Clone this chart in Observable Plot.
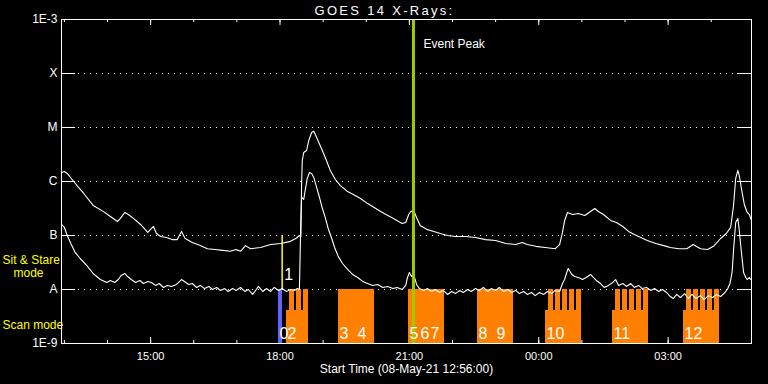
<!DOCTYPE html>
<html>
<head>
<meta charset="utf-8">
<script src="https://cdn.jsdelivr.net/npm/d3@7"></script>
<script src="https://cdn.jsdelivr.net/npm/@observablehq/plot@0.6"></script>
<style>
  html, body { margin: 0; padding: 0; background: #000; overflow: hidden; }
  #chart svg { display: block; }
</style>
</head>
<body>
<div id="chart"></div>
<script>
// ---------------- data ----------------
const title = "GOES 14 X-Rays:";
const xCaption = "Start Time (08-May-21 12:56:00)";
const startTime = "12:56:00";
const endTime = "04:56:00";

const levelValues = [1e-9, 1e-8, 1e-7, 1e-6, 1e-5, 1e-4, 1e-3];
const levelLabels = ["1E-9", "A", "B", "C", "M", "X", "1E-3"];
const gridLevels = [1e-8, 1e-7, 1e-6, 1e-5, 1e-4];
const timeTickLabels = ["15:00", "18:00", "21:00", "00:00", "03:00"];

// GOES long channel (1-8 A), upper curve
const longTimes = ["12:56","13:00","13:04","13:13","13:20","13:27","13:40","13:54","14:04","14:14","14:18","14:24","14:29","14:36","14:46","14:56","15:00","15:04","15:08","15:14","15:22","15:30","15:37","15:43","15:48","15:58","16:09","16:19","16:30","16:40","16:51","16:59","17:05","17:12","17:19","17:33","17:47","18:01","18:13","18:22","18:27","18:29","18:30","18:31","18:33","18:37","18:40","18:44","18:47","18:51","18:56","19:02","19:10","19:17","19:24","19:34","19:42","19:52","20:02","20:11","20:20","20:30","20:38","20:45","20:50","20:55","20:59","21:02","21:06","21:10","21:15","21:24","21:34","21:43","21:53","22:04","22:18","22:32","22:46","23:00","23:14","23:28","23:37","23:44","23:56","00:09","00:23","00:29","00:33","00:36","00:40","00:47","00:55","01:04","01:12","01:18","01:23","01:30","01:40","01:48","01:57","02:05","02:13","02:22","02:31","02:43","02:54","03:03","03:15","03:26","03:35","03:45","03:55","04:03","04:13","04:21","04:27","04:31","04:34","04:37","04:39","04:42","04:46","04:50","04:53","04:56"];
const longFlux = [1.47e-6,1.53e-6,1.41e-6,1.0e-6,7.7e-7,6.0e-7,3.6e-7,2.8e-7,2.25e-7,1.82e-7,2.07e-7,2.67e-7,2.45e-7,2.07e-7,1.6e-7,1.14e-7,1.3e-7,1.47e-7,1.09e-7,9.6e-8,9.2e-8,8.4e-8,8.4e-8,1.19e-7,8.8e-8,7.4e-8,6.5e-8,5.7e-8,5.5e-8,5.3e-8,5.1e-8,5.5e-8,5.1e-8,6.5e-8,5.7e-8,6.0e-8,6.8e-8,7.1e-8,7.7e-8,8.8e-8,1.0e-7,9.6e-8,8.4e-7,2.45e-6,3.44e-6,3.75e-6,5.75e-6,8.1e-6,8.5e-6,6.5e-6,4.6e-6,3.0e-6,1.6e-6,1.09e-6,8.4e-7,6.5e-7,5.75e-7,4.85e-7,3.9e-7,3.3e-7,2.78e-7,2.35e-7,2.07e-7,1.82e-7,1.67e-7,1.74e-7,2.45e-7,2.78e-7,2.9e-7,2.15e-7,1.53e-7,1.3e-7,1.19e-7,1.09e-7,1.0e-7,9.6e-8,9.6e-8,9.2e-8,8.4e-8,8.1e-8,7.1e-8,6.8e-8,7.4e-8,6.8e-8,6.3e-8,6.0e-8,5.7e-8,6.8e-8,1.14e-7,1.9e-7,2.67e-7,2.45e-7,2.55e-7,2.35e-7,2.78e-7,3.16e-7,2.78e-7,2.45e-7,1.9e-7,1.74e-7,1.47e-7,1.19e-7,1.04e-7,9.2e-8,8.1e-8,7.1e-8,6.5e-8,6.0e-8,5.7e-8,5.7e-8,6.8e-8,5.7e-8,5.5e-8,6.3e-8,8.8e-8,1.09e-7,1.41e-7,3.6e-7,1.14e-6,1.6e-6,1.29e-6,7.4e-7,3.75e-7,2.67e-7,2.45e-7,1.9e-7];

// GOES short channel (0.5-4 A), lower curve
const shortTimes = ["12:56","13:00","13:04","13:09","13:15","13:22","13:31","13:40","13:50","13:59","14:04","14:10","14:15","14:19","14:24","14:28","14:33","14:39","14:45","14:50","14:56","15:01","15:07","15:12","15:18","15:23","15:29","15:36","15:43","15:47","15:53","15:58","16:04","16:09","16:15","16:21","16:26","16:32","16:37","16:43","16:48","16:54","16:59","17:05","17:11","17:16","17:22","17:26","17:30","17:36","17:41","17:47","17:52","17:58","18:03","18:09","18:15","18:20","18:24","18:27","18:29","18:30","18:33","18:35","18:38","18:41","18:44","18:47","18:51","18:55","18:59","19:03","19:07","19:12","19:16","19:21","19:27","19:34","19:41","19:48","19:55","20:02","20:09","20:16","20:23","20:30","20:37","20:43","20:50","20:55","20:57","21:00","21:03","21:06","21:10","21:14","21:20","21:25","21:31","21:36","21:42","21:47","21:53","21:59","22:04","22:10","22:15","22:21","22:26","22:32","22:37","22:43","22:49","22:54","23:00","23:05","23:11","23:17","23:22","23:28","23:33","23:39","23:44","23:50","23:55","00:01","00:07","00:12","00:18","00:23","00:29","00:33","00:36","00:39","00:41","00:46","00:50","00:55","01:01","01:06","01:12","01:16","01:20","01:26","01:31","01:37","01:43","01:47","01:51","01:57","02:02","02:08","02:13","02:19","02:24","02:30","02:36","02:41","02:47","02:52","02:58","03:03","03:07","03:12","03:17","03:23","03:28","03:33","03:39","03:45","03:50","03:56","04:02","04:07","04:13","04:19","04:23","04:26","04:29","04:31","04:34","04:37","04:39","04:42","04:45","04:48","04:50","04:53","04:56"];
const shortFlux = [1.6e-7,1.41e-7,1.0e-7,7.1e-8,4.85e-8,3.75e-8,2.8e-8,1.98e-8,1.53e-8,1.35e-8,1.47e-8,1.35e-8,1.53e-8,1.82e-8,1.98e-8,1.74e-8,1.53e-8,1.35e-8,1.47e-8,1.29e-8,1.41e-8,1.35e-8,1.19e-8,1.29e-8,1.09e-8,1.19e-8,1.14e-8,1.24e-8,1.53e-8,1.41e-8,1.24e-8,1.29e-8,1.09e-8,1.19e-8,1.04e-8,1.14e-8,1.0e-8,1.09e-8,9.6e-9,1.04e-8,9.2e-9,1.04e-8,9.6e-9,1.09e-8,9.2e-9,1.0e-8,8.1e-9,9.6e-9,1.14e-8,9.2e-9,1.04e-8,9.2e-9,1.09e-8,9.6e-9,1.04e-8,9.2e-9,1.0e-8,9.6e-9,1.04e-8,1.0e-8,1.9e-7,5.05e-7,4.65e-7,6.8e-7,1.14e-6,1.47e-6,1.41e-6,1.19e-6,7.7e-7,5.05e-7,3.16e-7,2.15e-7,1.35e-7,8.8e-8,6.0e-8,4.1e-8,3.03e-8,2.35e-8,1.9e-8,1.67e-8,1.41e-8,1.29e-8,1.19e-8,1.24e-8,1.09e-8,1.14e-8,1.04e-8,1.09e-8,1.0e-8,1.19e-8,1.6e-8,2.07e-8,1.74e-8,1.9e-8,1.24e-8,1.04e-8,9.6e-9,1.04e-8,9.2e-9,1.0e-8,8.8e-9,9.6e-9,8.1e-9,9.2e-9,8.4e-9,9.6e-9,8.8e-9,1.0e-8,9.2e-9,1.04e-8,9.6e-9,1.09e-8,9.2e-9,1.04e-8,9.6e-9,1.09e-8,9.2e-9,1.0e-8,8.8e-9,9.6e-9,8.4e-9,9.2e-9,8.1e-9,8.8e-9,7.7e-9,8.8e-9,8.1e-9,9.2e-9,8.4e-9,9.6e-9,9.2e-9,1.29e-8,1.53e-8,2.07e-8,2.45e-8,1.9e-8,1.74e-8,1.67e-8,1.53e-8,1.67e-8,1.9e-8,1.67e-8,1.47e-8,1.29e-8,1.09e-8,1.19e-8,1.35e-8,1.53e-8,1.19e-8,1.29e-8,1.14e-8,1.29e-8,1.09e-8,1.19e-8,1.04e-8,1.09e-8,9.6e-9,1.04e-8,9.2e-9,1.0e-8,8.8e-9,7.4e-9,6.8e-9,8.1e-9,7.1e-9,8.4e-9,6.8e-9,8.1e-9,6.8e-9,7.7e-9,6.5e-9,7.7e-9,7.1e-9,8.1e-9,7.4e-9,8.8e-9,1.04e-8,1.29e-8,2.07e-8,5.3e-8,1.74e-7,2.07e-7,1.24e-7,4.85e-8,2.07e-8,1.67e-8,1.53e-8,1.67e-8,1.47e-8];

// Observations
const calibObsNumber = "0";
const calibObsStart = "17:57:54";
const calibObsEnd = "18:03:30";

const sitStareObsNumber = "1";
const sitStareObsTime = "18:03:00";

const solidObsNumbers = ["3", "4", "5", "6", "7", "8", "9"];
const solidObsStart = ["19:21:24", "19:46:24", "20:58:48", "21:14:06", "21:28:00", "22:34:48", "22:59:48"];
const solidObsEnd   = ["19:46:24", "20:11:30", "21:14:06", "21:28:00", "21:48:54", "22:59:48", "23:24:54"];

const rasterObsNumbers = ["2", "10", "11", "12"];
const rasterObsStart = ["18:09:00", "00:09:24", "01:42:36", "03:21:24"];
const rasterObsEnd   = ["18:39:42", "00:59:30", "02:32:42", "04:11:30"];
const rasterBaseTop = 4.1e-9;
const rasterStepStart = ["18:13:12","18:23:00","18:32:42",
  "00:13:36","00:23:18","00:33:00","00:42:48","00:52:30",
  "01:46:48","01:56:30","02:06:18","02:16:00","02:25:42",
  "03:25:36","03:35:18","03:45:00","03:54:48","04:04:30"];
const rasterStepEnd = ["18:20:12","18:29:54","18:39:42",
  "00:20:30","00:30:18","00:40:00","00:49:42","00:59:30",
  "01:53:42","02:03:30","02:13:12","02:23:00","02:32:42",
  "03:32:30","03:42:18","03:52:00","04:01:42","04:11:30"];

const eventPeakTime = "21:05:42";
const eventPeakLabel = "Event Peak";
const sitStareModeLabel = ["Sit & Stare", "mode"];
const scanModeLabel = "Scan mode";

// ---------------- helpers ----------------
function toDate(s) {
  const [h, m, sec = 0] = s.split(":").map(Number);
  const day = h >= 12 ? 8 : 9;
  return new Date(Date.UTC(2021, 4, day, h, m, sec));
}

const W = 768, H = 384;
const mL = 61, mR = 17, mT = 19, mB = 41;
const plotW = W - mL - mR;
const plotH = H - mT - mB;

const t0 = toDate(startTime), t1 = toDate(endTime);
const longData = longTimes.map((t, i) => ({t: toDate(t), v: longFlux[i]}));
const shortData = shortTimes.map((t, i) => ({t: toDate(t), v: shortFlux[i]}));
const solidData = solidObsNumbers.map((n, i) => ({n, s: toDate(solidObsStart[i]), e: toDate(solidObsEnd[i])}));
const rasterData = rasterObsNumbers.map((n, i) => ({n, s: toDate(rasterObsStart[i]), e: toDate(rasterObsEnd[i])}));
const stepData = rasterStepStart.map((s, i) => ({s: toDate(s), e: toDate(rasterStepEnd[i])}));
const calibData = [{n: calibObsNumber, s: toDate(calibObsStart), e: toDate(calibObsEnd)}];
const sitData = [{n: sitStareObsNumber, t: toDate(sitStareObsTime)}];
const scanLabels = [...calibData, ...rasterData, ...solidData].map(d => ({n: d.n, t: d.s}));

const hourTicks = d3.utcHour.range(t0, t1);
const majorTicks = timeTickLabels.map(s => toDate(s));
const innerLevels = levelValues.slice(1, -1);
const peak = [toDate(eventPeakTime)];

const font = "'Liberation Sans', Arial, sans-serif";
const white = "#ffffff";

const chart = Plot.plot({
  width: W, height: H,
  marginLeft: mL, marginRight: mR, marginTop: mT, marginBottom: mB,
  style: {background: "#000", color: white, fontFamily: font},
  x: {type: "utc", domain: [t0, t1]},
  y: {type: "log", domain: [levelValues[0], levelValues[levelValues.length - 1]]},
  marks: [
    // dotted grid
    Plot.ruleY(gridLevels, {stroke: white, strokeDasharray: "1,5", strokeDashoffset: 3, insetLeft: 14, insetRight: 14}),
    // inner ticks on left & right axes
    Plot.tickY(innerLevels, {stroke: white, insetRight: plotW - 14}),
    Plot.tickY(innerLevels, {stroke: white, insetLeft: plotW - 14}),
    // time ticks bottom & top
    Plot.tickX(hourTicks, {stroke: white, insetTop: plotH - 3}),
    Plot.tickX(hourTicks, {stroke: white, insetBottom: plotH - 3}),
    Plot.tickX(majorTicks, {stroke: white, insetTop: plotH - 6}),
    Plot.tickX(majorTicks, {stroke: white, insetBottom: plotH - 6}),
    // observations
    Plot.rectY(calibData, {x1: "s", x2: "e", y1: 1e-9, y2: 1e-8, fill: "#6464ff", shapeRendering: "crispEdges"}),
    Plot.rectY(solidData, {x1: "s", x2: "e", y1: 1e-9, y2: 1e-8, fill: "#ff8000", shapeRendering: "crispEdges"}),
    Plot.rectY(rasterData, {x1: "s", x2: "e", y1: 1e-9, y2: rasterBaseTop, fill: "#ff8000", shapeRendering: "crispEdges"}),
    Plot.rectY(stepData, {x1: "s", x2: "e", y1: 1e-9, y2: 1e-8, fill: "#ff8000", shapeRendering: "crispEdges"}),
    Plot.ruleX(sitData, {x: "t", y1: 1e-8, y2: 1e-7, stroke: "#ffff00", strokeWidth: 1.5}),
    // GOES curves
    Plot.line(longData, {x: "t", y: "v", stroke: white, strokeWidth: 1.1}),
    Plot.line(shortData, {x: "t", y: "v", stroke: white, strokeWidth: 1.1}),
    // event peak
    Plot.ruleX(peak, {stroke: "#9ccc00", strokeWidth: 3}),
    Plot.text(peak, {x: d => d, text: () => eventPeakLabel, frameAnchor: "top", dx: 10, dy: 28, textAnchor: "start", lineAnchor: "bottom", fill: white, fontSize: 12}),
    // observation numbers
    Plot.text(scanLabels, {x: "t", y: 1e-9, text: "n", textAnchor: "start", lineAnchor: "bottom", dx: 1, dy: -5, fill: white, fontSize: 16}),
    Plot.text(sitData, {x: "t", y: 1e-8, text: "n", textAnchor: "start", lineAnchor: "bottom", dx: 2, dy: -10, fill: white, fontSize: 16}),
    // mode labels
    Plot.text([sitStareModeLabel[0]], {frameAnchor: "left", y: 1e-8, dx: -59, dy: -26, textAnchor: "start", lineAnchor: "bottom", fill: "#ffff00", fontSize: 12}),
    Plot.text([sitStareModeLabel[1]], {frameAnchor: "left", y: 1e-8, dx: -48, dy: -13, textAnchor: "start", lineAnchor: "bottom", fill: "#ffff00", fontSize: 12}),
    Plot.text([scanModeLabel], {frameAnchor: "left", y: 1e-9, dx: -59, dy: -15, textAnchor: "start", lineAnchor: "bottom", fill: "#ffff00", fontSize: 12}),
    // axes
    Plot.axisY(levelValues, {tickSize: 0, tickPadding: 4, label: null, fontSize: 12, fill: white,
      tickFormat: d => levelLabels[levelValues.indexOf(d)]}),
    Plot.axisX(majorTicks, {tickSize: 0, tickPadding: 9, label: null, fontSize: 11, fill: white,
      tickFormat: d => timeTickLabels[majorTicks.findIndex(m => +m === +d)]}),
    Plot.text([xCaption], {frameAnchor: "bottom", dy: 26, lineAnchor: "middle", fill: white, fontSize: 12}),
    Plot.text([title], {frameAnchor: "top", dx: -22, dy: -5, lineAnchor: "bottom", fill: white, fontSize: 13}),
    Plot.frame({stroke: white})
  ]
});
// widen the title's letter spacing like the reference's vector font
d3.select(chart).selectAll("text")
  .filter(function () { return this.textContent === title; })
  .style("letter-spacing", "2.3px");
document.getElementById("chart").appendChild(chart);
</script>
</body>
</html>
